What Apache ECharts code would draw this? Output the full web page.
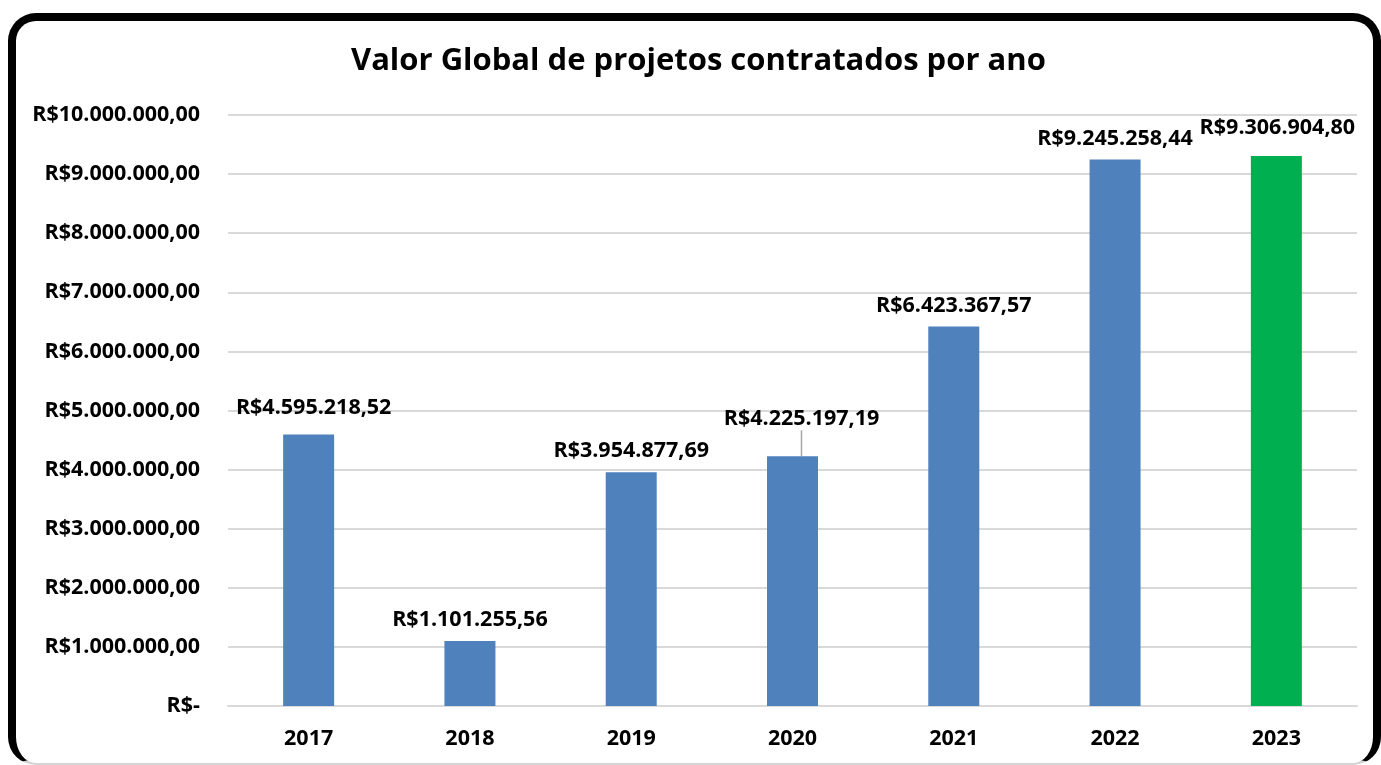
<!DOCTYPE html>
<html>
<head>
<meta charset="utf-8">
<script src="https://cdn.jsdelivr.net/npm/echarts@6/dist/echarts.min.js"></script>
<style>
    html, body { margin: 0; padding: 0; background: #fff; }
    #chart { width: 1381px; height: 765px; }
    .frame {
        position: absolute; left: 8px; top: 13px; width: 1373px; height: 752px;
        box-sizing: border-box; border: 8px solid #000; border-bottom: 2px solid #d4d4d4;
        border-radius: 28px; pointer-events: none;
    }
</style>
</head>
<body>
<div id="chart"></div>
<div class="frame"></div>
<script>
    // dados do gráfico
    const anos = ['2017', '2018', '2019', '2020', '2021', '2022', '2023']
    const valores = [4595218.52, 1101255.56, 3954877.69, 4225197.19, 6423367.57, 9245258.44, 9306904.80]
    const cores = ['#4F81BD', '#4F81BD', '#4F81BD', '#4F81BD', '#4F81BD', '#4F81BD', '#00B050']

    // formata no padrão brasileiro: R$1.234.567,89
    function formatBRL(v) {
        const partes = v.toFixed(2).split('.')
        const inteiro = partes[0].replace(/\B(?=(\d{3})+(?!\d))/g, '.')
        return 'R$' + inteiro + ',' + partes[1]
    }

    const fonte = '"Open Sans", "Noto Sans", sans-serif'
    const tamanho = 21.5
    const chart = echarts.init(document.getElementById('chart'))

    const option = {
        animation: false,
        title: {
            text: 'Valor Global de projetos contratados por ano',
            left: 351,
            top: 46,
            padding: 0,
            textStyle: { fontFamily: fonte, fontSize: 31, fontWeight: 'bold', color: '#000' }
        },
        grid: { left: 228, right: 24, top: 115, bottom: 59 },
        xAxis: {
            type: 'category',
            data: anos,
            axisTick: { show: false },
            axisLine: { lineStyle: { color: '#d9d9d9', width: 2 } },
            axisLabel: { margin: 22, fontFamily: fonte, fontSize: tamanho, fontWeight: 'bold', color: '#000' }
        },
        yAxis: {
            type: 'value',
            min: 0,
            max: 10000000,
            interval: 1000000,
            axisLine: { show: false },
            axisTick: { show: false },
            splitLine: { lineStyle: { color: '#d9d9d9', width: 2 } },
            axisLabel: {
                margin: 28,
                fontFamily: fonte, fontSize: tamanho, fontWeight: 'bold', color: '#000',
                formatter: v => v === 0 ? 'R$-' : formatBRL(v)
            }
        },
        series: [{
            type: 'bar',
            barWidth: 51,
            data: valores.map((v, i) => {
                const item = { value: v, itemStyle: { color: cores[i] } }
                // só o rótulo de 2020 tem linha de chamada
                if (i === 3) item.labelLine = { show: true, lineStyle: { color: '#a6a6a6', width: 1.5 } }
                return item
            }),
            label: {
                show: true,
                position: 'top',
                distance: 10,
                fontFamily: fonte, fontSize: tamanho, fontWeight: 'bold', color: '#000',
                formatter: p => formatBRL(p.value)
            },
            labelLine: { show: false },
            labelLayout: function (p) {
                if (p.dataIndex === 0) return { dx: 5, dy: -6 }
                if (p.dataIndex === 3) return { dx: 9, dy: -16 }
                if (p.dataIndex === 6) return { dx: 1, dy: -7 }
                return {}
            }
        }]
    }
    chart.setOption(option)
</script>
</body>
</html>
